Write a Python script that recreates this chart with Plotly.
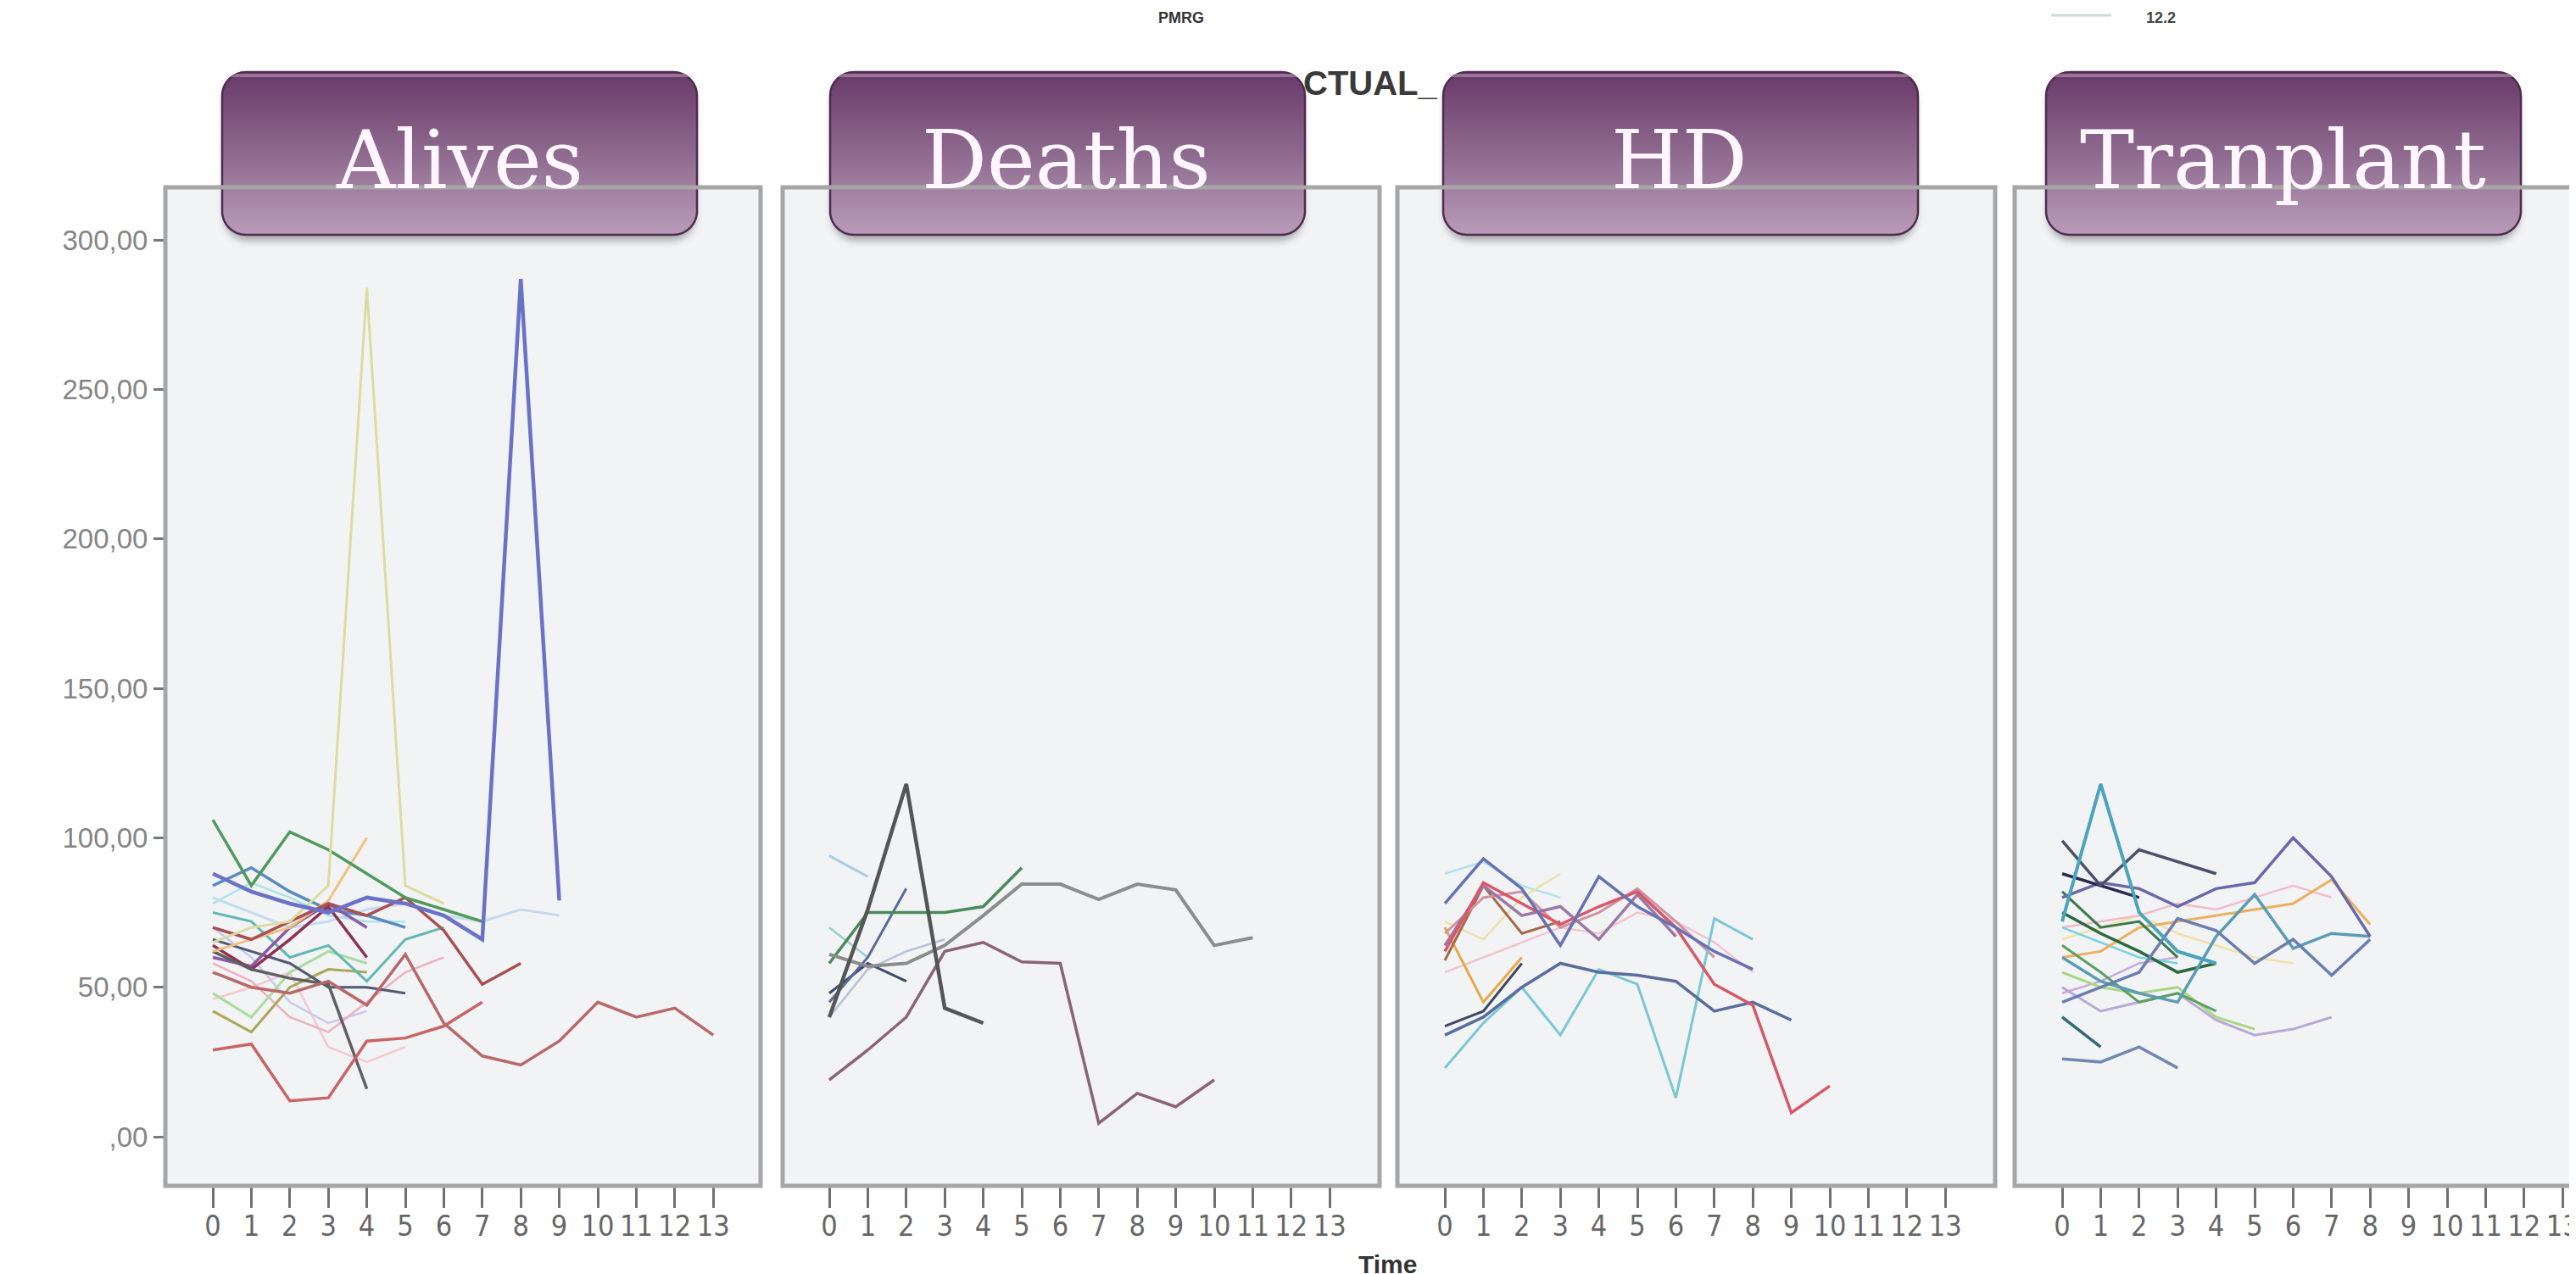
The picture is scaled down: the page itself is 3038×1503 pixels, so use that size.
import base64
import plotly.graph_objects as go

# ---------------- data ----------------
times = list(range(14))
x_tick_labels = [str(t) for t in times]
y_tick_values = [0, 50, 100, 150, 200, 250, 300]
y_tick_labels = [",00", "50,00", "100,00", "150,00", "200,00", "250,00", "300,00"]
panel_titles = ["Alives", "Deaths", "HD", "Tranplant"]

# Panel 1 - Alives
al_green = [106, 84, 102, 96, 88, 80, 76, 72]
al_blue_spike = [88, 82, 78, 75, 80, 78, 74, 66, 287, 79]
al_yellow_spike = [65, 70, 72, 84, 284, 84, 78]
al_red_a = [29, 31, 12, 13, 32, 33, 37, 45]
al_rose_long = [55, 50, 48, 52, 44, 61, 38, 27, 24, 32, 45, 40, 43, 34]
al_redbrown = [70, 66, 72, 78, 74, 80, 69, 51, 58]
al_darkgray = [62, 56, 53, 51, 16]
al_steel = [84, 90, 82, 76, 74, 70]
al_lightblue = [80, 75, 70, 72, 76, 78, 74, 72, 76, 74]
al_purple = [60, 57, 70, 78, 70]
al_maroon = [64, 56, 66, 77, 60]
al_teal = [75, 72, 60, 64, 52, 66, 70]
al_lightgreen = [48, 40, 55, 62, 58]
al_olive = [42, 35, 50, 56, 55]
al_pink = [58, 52, 40, 35, 45, 55, 60]
al_lavender = [70, 60, 45, 38, 42]
al_cyan = [78, 85, 80, 74, 72, 72]
al_darkslate = [66, 62, 58, 50, 50, 48]
al_orange = [62, 66, 70, 79, 100]
al_faintpink = [46, 50, 55, 30, 25, 30]

# Panel 2 - Deaths
de_dark_spike = [40, 76, 118, 43, 38]
de_gray_long = [61, 57, 58, 64, 74, 84.5, 84.5, 79.4, 84.5, 82.6, 64, 66.6]
de_mauve = [19, 29, 40, 62, 65, 58.5, 58, 4.5, 14.5, 10, 19]
de_green = [58, 75, 75, 75, 77, 90]
de_lightblue = [94, 87]
de_slate = [45, 60, 83]
de_navy = [48, 58, 52]
de_lightgray = [40, 56, 62, 66]
de_teal = [70, 60]

# Panel 3 - HD
hd_slate = [78, 93, 83, 64, 87, 77, 70, 62, 56]
hd_red = [62, 85, 78, 71, 77, 82, 70, 51, 44, 8, 17]
hd_bluegray = [34, 40, 50, 58, 55, 54, 52, 42, 45, 39]
hd_cyan = [23, 38, 50, 34, 56, 51, 13, 73, 66]
hd_mauve = [64, 84, 74, 77, 66, 81, 67]
hd_orange = [70, 45, 60]
hd_brown = [59, 84, 68, 72]
hd_darkslate = [37, 42, 58]
hd_rose = [68, 80, 82, 70, 75, 83, 72, 60]
hd_paleyellow = [72, 66, 80, 88]
hd_lightcyan = [88, 92, 84, 80]
hd_lightpink = [55, 60, 65, 70, 68, 75, 72, 65, 55]

# Panel 4 - Tranplant
tr_teal_spike = [72, 118, 75, 62, 58]
tr_darkslate = [99, 84, 96, 92, 88]
tr_slatepurple = [80, 85, 83, 77, 83, 85, 100, 87, 67]
tr_bluegray = [45, 50, 55, 73, 69, 58, 66, 54, 66]
tr_tealblue = [60, 52, 48, 45, 67, 81, 63, 68, 67]
tr_orange = [60, 62, 70, 72, 74, 76, 78, 86, 71]
tr_lavender = [50, 42, 45, 48, 39, 34, 36, 40]
tr_lightgreen = [55, 50, 48, 50, 40, 36]
tr_bottom = [26, 25, 30, 23]
tr_darkteal = [40, 30]
tr_darkgreen = [75, 68, 62, 55, 58]
tr_green = [64, 55, 45, 48, 42]
tr_navy = [88, 84, 80]
tr_pink = [70, 72, 74, 78, 76, 80, 84, 80]
tr_lightyellow = [66, 70, 74, 68, 64, 60, 58]
tr_purplelight = [48, 52, 58, 60]
tr_cyan = [70, 65, 60, 58]
tr_olivegreen = [82, 70, 72, 60]

# ---------------- styles ----------------
panels = [
    [(al_faintpink, "#f4c8d0", 2.5), (al_lavender, "#c8c8f0", 2.5), (al_cyan, "#a8e4e8", 2.5),
     (al_lightblue, "#c4daee", 3), (al_pink, "#eeb0c0", 2.5), (al_lightgreen, "#a8dca0", 3),
     (al_olive, "#a8a858", 3), (al_teal, "#60b8b0", 3), (al_darkslate, "#505a70", 3),
     (al_steel, "#5a8ac0", 3.5), (al_purple, "#8a5aa8", 3.5), (al_maroon, "#903050", 3.5),
     (al_darkgray, "#606060", 3.5), (al_orange, "#f0c080", 3), (al_redbrown, "#a85050", 3.5),
     (al_red_a, "#c86464", 3.5), (al_rose_long, "#b86868", 3.5), (al_green, "#4f9a5a", 3.5),
     (al_yellow_spike, "#dcdca0", 3), (al_blue_spike, "#6a72c8", 4.5)],
    [(de_teal, "#9ccccc", 2.5), (de_lightgray, "#b8c0d4", 2.5), (de_lightblue, "#a8cce2", 3),
     (de_navy, "#3a4a70", 3), (de_slate, "#5a6a98", 3), (de_green, "#4a8a5a", 3.5),
     (de_gray_long, "#8c8c8c", 4), (de_mauve, "#8a6474", 3.5), (de_dark_spike, "#555555", 4.5)],
    [(hd_lightpink, "#f2c4cc", 2.5), (hd_lightcyan, "#b0e2ea", 2.5), (hd_paleyellow, "#eae2a8", 2.5),
     (hd_orange, "#e8a848", 3), (hd_brown, "#a86848", 3), (hd_darkslate, "#404860", 3),
     (hd_rose, "#d092a2", 3), (hd_mauve, "#9a78a8", 3.5), (hd_cyan, "#78c8d4", 3),
     (hd_bluegray, "#5a6c9c", 3.5), (hd_red, "#d85868", 3.5), (hd_slate, "#6472b4", 3.5)],
    [(tr_lightyellow, "#f0e2a8", 2.5), (tr_pink, "#f0bccb", 2.5), (tr_purplelight, "#c8a8dc", 2.5),
     (tr_cyan, "#78d2e0", 2.5), (tr_lightgreen, "#a8d880", 3), (tr_lavender, "#b8a8d8", 3),
     (tr_orange, "#eab060", 3), (tr_olivegreen, "#3a7a4a", 3), (tr_green, "#5aa060", 3),
     (tr_darkgreen, "#2a6a3a", 3.5), (tr_bottom, "#7088b0", 3.5), (tr_darkteal, "#306878", 3.5),
     (tr_tealblue, "#5a9cb4", 3.5), (tr_bluegray, "#6a7eb0", 3.5), (tr_slatepurple, "#6a68a8", 3.5),
     (tr_navy, "#2a2a50", 3.5), (tr_darkslate, "#4a5068", 3.5), (tr_teal_spike, "#4aa4bc", 4)],
]

# ---------------- geometry (pixels) ----------------
W, H = 3038, 1503
frames_px = [(187, 889), (915, 1619), (1640, 2345), (2368, 3075)]
tick0_px = [243, 970, 1696, 2424]
px_per_unit = 45.4
frame_top, frame_bottom = 213, 1391
zero_px, px_per_50 = 1333, 176.3
boxes_px = [(254, 814), (971, 1527), (1694, 2251), (2405, 2964)]
box_top, box_bottom = 77, 269

y_lo = -(frame_bottom - zero_px) / px_per_50 * 50
y_hi = (zero_px - frame_top) / px_per_50 * 50
y_dom = [1 - frame_bottom / H, 1 - frame_top / H]

fig = go.Figure()
layout = dict(
    width=W, height=H, margin=dict(l=0, r=0, t=0, b=0),
    paper_bgcolor="white", plot_bgcolor="#f2f3f5", showlegend=False,
)

for i in range(4):
    sfx = "" if i == 0 else str(i + 1)
    left, right = frames_px[i]
    right_c = min(right, W)
    t0 = tick0_px[i]
    layout["xaxis" + sfx] = dict(
        domain=[left / W, right_c / W],
        range=[(left - t0) / px_per_unit, (right_c - t0) / px_per_unit],
        tickmode="array", tickvals=times, ticktext=x_tick_labels,
        ticks="outside", ticklen=25, tickwidth=3, tickcolor="#707070",
        ticklabelstandoff=-8,
        tickfont=dict(family="Liberation Sans Narrow, DejaVu Sans Condensed, Liberation Sans",
                      size=34, color="#666666"),
        showgrid=False, zeroline=False, showline=False, anchor="y" + sfx,
        fixedrange=True,
    )
    ya = dict(
        domain=y_dom, range=[y_lo, y_hi], showgrid=False, zeroline=False, showline=False,
        anchor="x" + sfx, fixedrange=True,
    )
    if i == 0:
        ya.update(tickmode="array", tickvals=y_tick_values, ticktext=y_tick_labels,
                  ticks="outside", ticklen=13, tickwidth=3, tickcolor="#777777",
                  tickfont=dict(family="Liberation Sans, Arial", size=33, color="#858585"))
    else:
        ya.update(showticklabels=False, ticks="")
    layout["yaxis" + sfx] = ya

    for vals, color, width in panels[i]:
        fig.add_trace(go.Scatter(
            x=times[:len(vals)], y=vals, mode="lines",
            line=dict(color=color, width=width),
            xaxis="x" + sfx, yaxis="y" + sfx, hoverinfo="skip",
        ))

# frames
shapes = []
for left, right in frames_px:
    shapes.append(dict(type="rect", xref="paper", yref="paper",
                       x0=left / W, x1=right / W, y0=1 - frame_bottom / H, y1=1 - frame_top / H,
                       line=dict(color="#a6a6a6", width=5), fillcolor="rgba(0,0,0,0)", layer="above"))
# legend fragment line at top right
shapes.append(dict(type="line", xref="paper", yref="paper",
                   x0=2411 / W, x1=2482 / W, y0=1 - 10 / H, y1=1 - 10 / H,
                   line=dict(color="#c8dcdc", width=3)))
layout["shapes"] = shapes

# gradient title boxes (SVG images)
bw, bh = 560, 192
pad_x, pad_top, pad_bot = 8, 6, 16
svg = (
    f"<svg xmlns='http://www.w3.org/2000/svg' width='{bw + 2 * pad_x}' height='{bh + pad_top + pad_bot}' "
    f"viewBox='0 0 {bw + 2 * pad_x} {bh + pad_top + pad_bot}'>"
    "<defs><linearGradient id='g' x1='0' y1='0' x2='0' y2='1'>"
    "<stop offset='0' stop-color='#683968'/><stop offset='0.5' stop-color='#8e6a8e'/>"
    "<stop offset='1' stop-color='#b99cb9'/></linearGradient>"
    "<filter id='s' x='-10%' y='-10%' width='120%' height='130%'><feGaussianBlur stdDeviation='4'/></filter></defs>"
    f"<rect x='{pad_x + 2}' y='{pad_top + 7}' width='{bw - 4}' height='{bh}' rx='28' fill='#6a6a6a' opacity='0.55' filter='url(#s)'/>"
    f"<rect x='{pad_x}' y='{pad_top}' width='{bw}' height='{bh}' rx='28' fill='url(#g)' stroke='#4e2c4e' stroke-width='2.5'/>"
    f"<rect x='{pad_x + 3}' y='{pad_top + 2}' width='{bw - 6}' height='4' rx='2' fill='#f0d8f0' opacity='0.35'/>"
    "</svg>"
)
src = "data:image/svg+xml;base64," + base64.b64encode(svg.encode()).decode()
images = []
for bl, br in boxes_px:
    images.append(dict(source=src, xref="paper", yref="paper",
                       x=(bl - pad_x) / W, y=1 - (box_top - pad_top) / H,
                       sizex=(bw + 2 * pad_x) / W, sizey=(bh + pad_top + pad_bot) / H,
                       xanchor="left", yanchor="top", sizing="stretch", layer="above"))
layout["images"] = images

annotations = []
for (bl, br), title in zip(boxes_px, panel_titles):
    annotations.append(dict(text=title, xref="paper", yref="paper",
                            x=(bl + br) / 2 / W, y=1 - 181 / H, xanchor="center", yanchor="middle",
                            showarrow=False,
                            font=dict(family="DejaVu Serif, Liberation Serif", size=96, color="#fff6ff")))
annotations.append(dict(text="<b>Time</b>", xref="paper", yref="paper", x=1628 / W, y=1 - 1502 / H,
                        xanchor="center", yanchor="bottom", showarrow=False,
                        font=dict(family="Liberation Sans Narrow, Liberation Sans", size=30, color="#333333")))
annotations.append(dict(text="<b>CTUAL_</b>", xref="paper", yref="paper", x=1527 / W, y=1 - 90 / H,
                        xanchor="left", yanchor="middle", showarrow=False,
                        font=dict(family="Liberation Sans Narrow, Liberation Sans", size=40, color="#3a3a3a")))
annotations.append(dict(text="<b>PMRG</b>", xref="paper", yref="paper", x=1385 / W, y=1 - 1 / H,
                        xanchor="center", yanchor="top", showarrow=False,
                        font=dict(family="Liberation Sans Narrow, Liberation Sans", size=18, color="#333333")))
annotations.append(dict(text="<b>12.2</b>", xref="paper", yref="paper", x=2540 / W, y=1 - 1 / H,
                        xanchor="center", yanchor="top", showarrow=False,
                        font=dict(family="Liberation Sans Narrow, Liberation Sans", size=18, color="#444444")))
layout["annotations"] = annotations

fig.update_layout(**layout)
fig.write_html("out.html")
